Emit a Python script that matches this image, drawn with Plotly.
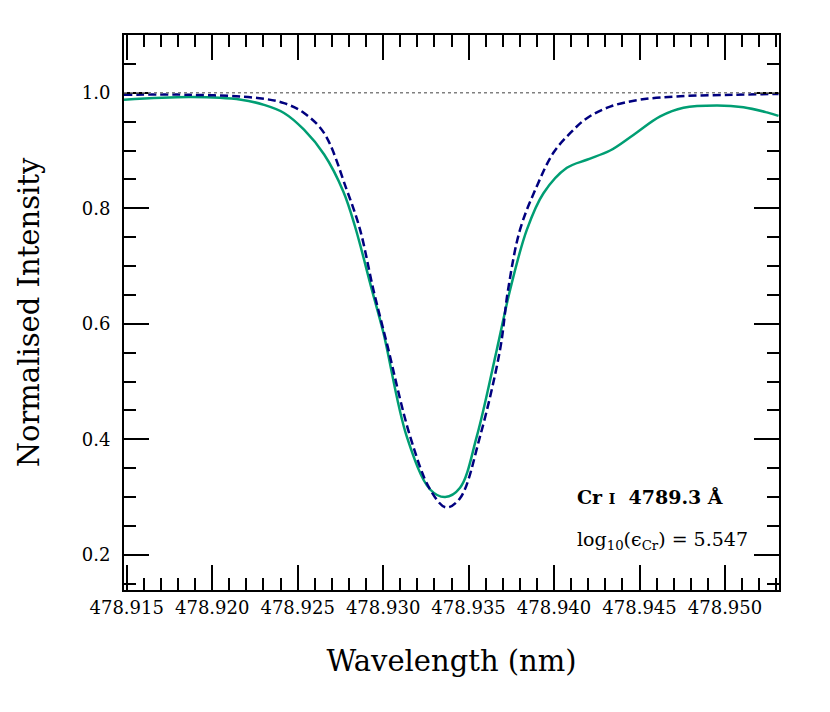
import plotly.graph_objects as go

# observed spectrum (solid green)
obs_wave = [478.91484, 478.91876, 478.92169, 478.92303, 478.92420, 478.92537, 478.92655,
            478.92767, 478.92836, 478.92934, 478.93002, 478.93138, 478.93275,
            478.93363, 478.93450, 478.93548, 478.93665, 478.93743, 478.93841, 478.93938,
            478.94075, 478.94192, 478.94328, 478.94464, 478.94621, 478.94757, 478.94952,
            478.95108, 478.95245, 478.95313]
obs_flux = [0.988, 0.9926, 0.988, 0.979, 0.965, 0.936, 0.893,
            0.829, 0.768, 0.659, 0.584, 0.405, 0.313,
            0.300, 0.316, 0.405, 0.555, 0.659, 0.763, 0.826,
            0.870, 0.884, 0.900, 0.927, 0.959, 0.974, 0.978,
            0.975, 0.966, 0.960]

# synthetic fit (dashed navy)
syn_wave = [478.91484, 478.91874, 478.92264, 478.92420, 478.92537, 478.92655,
            478.92787, 478.92865, 478.92943, 478.93021, 478.93158, 478.93275, 478.93368,
            478.93450, 478.93567, 478.93684, 478.93731, 478.93801, 478.93899, 478.93996,
            478.94094, 478.94192, 478.94328, 478.94504, 478.94738, 478.95049, 478.95313]
syn_flux = [0.9965, 0.9965, 0.991, 0.982, 0.965, 0.930,
            0.832, 0.763, 0.659, 0.567, 0.405, 0.313, 0.282,
            0.298, 0.405, 0.555, 0.659, 0.763, 0.838, 0.896,
            0.930, 0.956, 0.976, 0.988, 0.994, 0.9965, 0.998]

continuum = 1.0
abundance = 5.547

FONT = "DejaVu Serif"

fig = go.Figure()
fig.add_hline(y=continuum, line=dict(color="#808080", width=1.5, dash="dot"))
fig.add_trace(go.Scatter(x=obs_wave, y=obs_flux, mode="lines", name="observed",
                         line=dict(color="#009E73", width=2.5, shape="spline", smoothing=1.0)))
fig.add_trace(go.Scatter(x=syn_wave, y=syn_flux, mode="lines", name="synthetic",
                         line=dict(color="#00007f", width=2.5, dash="8px,4px", shape="spline", smoothing=1.0)))

axis_common = dict(showline=True, linecolor="black", linewidth=2, mirror="allticks",
                   ticks="inside", ticklen=25, tickwidth=2, tickcolor="black",
                   showgrid=False, zeroline=False,
                   tickfont=dict(family=FONT, size=18, color="black"))

fig.update_xaxes(range=[478.91484, 478.95316], tick0=478.915, dtick=0.005, tickformat=".3f",
                 minor=dict(dtick=0.001, ticklen=12, tickwidth=1.5, ticks="inside", tickcolor="black"),
                 title=dict(text="Wavelength (nm)", font=dict(family=FONT, size=29, color="black"), standoff=34),
                 **axis_common)
fig.update_yaxes(range=[0.139, 1.1], tick0=0.2, dtick=0.2, tickformat=".1f",
                 minor=dict(dtick=0.05, ticklen=12, tickwidth=1.5, ticks="inside", tickcolor="black"),
                 title=dict(text="Normalised Intensity", font=dict(family=FONT, size=29, color="black"), standoff=34),
                 ticklabelstandoff=8, **axis_common)

fig.add_annotation(xref="paper", yref="paper", x=0.6885, y=0.1676, xanchor="left", yanchor="middle",
                   text="<b>Cr <span style='font-size:14px'>I</span>&nbsp;&nbsp;4789.3 Å</b>",
                   showarrow=False, font=dict(family=FONT, size=19, color="black"))
fig.add_annotation(xref="paper", yref="paper", x=0.6885, y=0.0883, xanchor="left", yanchor="middle",
                   text=f"log<sub>10</sub>(ϵ<sub>Cr</sub>) = {abundance:.3f}",
                   showarrow=False, font=dict(family=FONT, size=19, color="black"))

# page body has an 8px margin, so the figure is sized to fit the 830x712 window
fig.update_layout(width=814, height=696, margin=dict(l=116, r=43, t=27, b=114),
                  plot_bgcolor="white", paper_bgcolor="white", showlegend=False)

fig.write_html("out.html")
